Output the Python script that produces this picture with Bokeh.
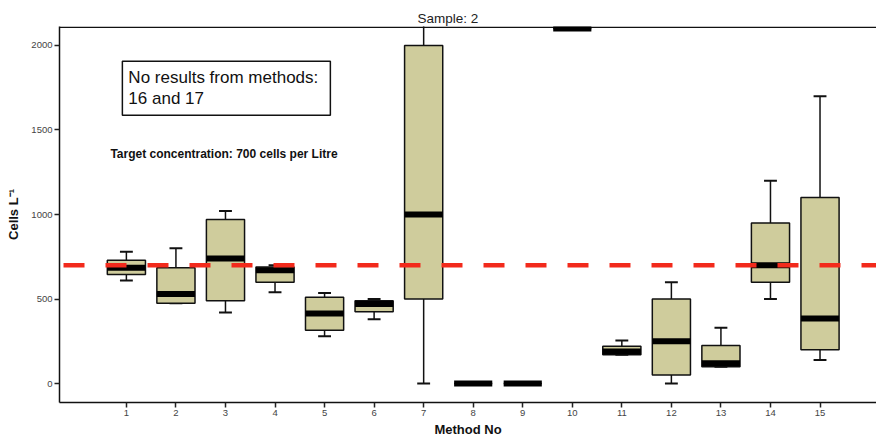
import numpy as np
from bokeh.plotting import figure
from bokeh.models import Range1d, BoxAnnotation, Label, FixedTicker
from bokeh.embed import file_html
from bokeh.resources import INLINE

# ---- data ----
methods = [1, 2, 3, 4, 5, 6, 7, 8, 9, 10, 11, 12, 13, 14, 15]
whisker_low = [610, 475, 420, 540, 280, 380, 0, 0, 0, 2100, 170, 0, 100, 500, 140]
q1 = [645, 475, 490, 600, 315, 425, 500, 0, 0, 2100, 170, 50, 100, 600, 200]
median = [685, 530, 740, 670, 415, 470, 1000, 0, 0, 2100, 190, 250, 120, 700, 385]
q3 = [730, 685, 970, 690, 510, 490, 2000, 0, 0, 2100, 220, 500, 225, 950, 1100]
whisker_high = [780, 800, 1020, 700, 535, 500, 2400, 0, 0, 2100, 255, 600, 330, 1200, 1700]
target = 700
y_ticks = [0, 500, 1000, 1500, 2000]

FONT = "Liberation Sans"
m = np.array(methods, dtype=float)
half_box = 0.385
half_cap = 0.13
X_START, X_END = -0.35, 16.14
Y_START, Y_END = -112, 2112

p = figure(width=876, height=439, output_backend="svg", toolbar_location=None,
           x_range=Range1d(X_START, X_END), y_range=Range1d(Y_START, Y_END),
           min_border_left=59, min_border_right=0, min_border_bottom=36,
           min_border_top=26)
p.outline_line_color = None
p.grid.visible = False
p.background_fill_color = "white"

# title
p.title.text = "Sample: 2"
p.title.align = "left"
p.title.offset = 358
p.title.text_font = FONT
p.title.text_font_style = "normal"
p.title.text_font_size = "13.5px"
p.title.text_color = "#222222"
p.title.standoff = 1

# axes
p.xaxis.ticker = FixedTicker(ticks=methods)
p.yaxis.ticker = FixedTicker(ticks=y_ticks)
for ax in (p.xaxis[0], p.yaxis[0]):
    ax.minor_tick_line_color = None
    ax.major_tick_out = 5
    ax.major_tick_in = 0
    ax.major_tick_line_width = 1.5
    ax.major_tick_line_color = "#222222"
    ax.axis_line_width = 1.5
    ax.axis_line_color = "#111111"
    ax.major_label_text_font = FONT
    ax.major_label_text_font_size = "9.5px"
    ax.major_label_text_color = "#444444"
    ax.major_label_standoff = 2
    ax.axis_label_text_font = FONT
    ax.axis_label_text_font_style = "bold"
    ax.axis_label_text_font_size = "13px"
    ax.axis_label_text_color = "#111111"
p.xaxis.axis_label = "Method No"
p.xaxis.axis_label_standoff = 3
p.yaxis.axis_label = "Cells L\u207b\u00b9"
p.yaxis.axis_label_standoff = 7

# top frame line (just inside the frame top)
p.line(x=[X_START, X_END], y=[Y_END - 4, Y_END - 4], line_color="#111111", line_width=1.5)

# whiskers
p.segment(x0=m, y0=whisker_low, x1=m, y1=q1, line_color="#111111", line_width=1.5)
p.segment(x0=m, y0=q3, x1=m, y1=whisker_high, line_color="#111111", line_width=1.5)
# caps
p.segment(x0=m - half_cap, y0=whisker_low, x1=m + half_cap, y1=whisker_low, line_color="#111111", line_width=2)
p.segment(x0=m - half_cap, y0=whisker_high, x1=m + half_cap, y1=whisker_high, line_color="#111111", line_width=2)
# boxes
p.quad(left=m - half_box, right=m + half_box, bottom=q1, top=q3,
       fill_color="#cfcc9c", line_color="#111111", line_width=1.5)
# medians
p.segment(x0=m - half_box, y0=median, x1=m + half_box, y1=median,
          line_color="black", line_width=6, line_cap="butt")

# target line
p.line(x=[X_START, X_END], y=[target, target], line_color="#f22a1c", line_width=4.5,
       line_dash="21 21", line_dash_offset=38)

# annotation box
p.add_layout(BoxAnnotation(left=0.919, right=5.117, top=1906, bottom=1587,
                           fill_color="white", fill_alpha=1.0,
                           line_color="#111111", line_width=1.5, line_alpha=1.0))
p.add_layout(Label(x=1.04, y=1811, text="No results from methods:", text_font=FONT,
                   text_font_size="17px", text_baseline="middle", text_color="#111111"))
p.add_layout(Label(x=1.04, y=1687, text="16 and 17", text_font=FONT,
                   text_font_size="17px", text_baseline="middle", text_color="#111111"))
p.add_layout(Label(x=0.677, y=1357, text="Target concentration: 700 cells per Litre",
                   text_font=FONT, text_font_size="12px", text_font_style="bold",
                   text_baseline="middle", text_color="#111111"))

open("out.html", "w").write(file_html(p, INLINE))
